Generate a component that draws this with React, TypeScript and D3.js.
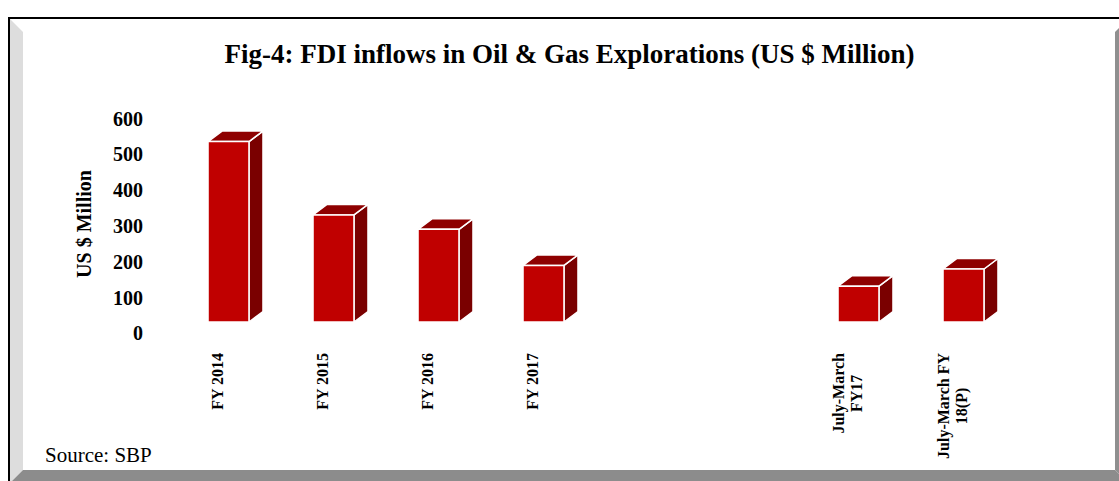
import React, { useEffect, useRef } from "react";
import * as d3 from "d3";

const categories: string[] = [
  "FY 2014",
  "FY 2015",
  "FY 2016",
  "FY 2017",
  "",
  "",
  "July-March\nFY17",
  "July-March FY\n18(P)",
];
const values: (number | null)[] = [504, 299, 259, 158, null, null, 100, 148];
const yTicks: number[] = [0, 100, 200, 300, 400, 500, 600];
const title = "Fig-4: FDI inflows in Oil & Gas Explorations (US $ Million)";
const yTitle = "US $ Million";
const source = "Source: SBP";

const W = 1119;
const H = 481;
const FONT = "'Liberation Serif', 'Times New Roman', Times, serif";

export default function App() {
  const ref = useRef<SVGSVGElement | null>(null);

  useEffect(() => {
    const svg = d3.select(ref.current);
    svg.selectAll("*").remove();

    // frame
    const f = svg.append("g");
    f.append("rect").attr("x", 0).attr("y", 0).attr("width", W).attr("height", H).attr("fill", "#ffffff");
    f.append("polygon").attr("points", "10,19 1128,19 1115,32 23,32").attr("fill", "#ffffff");
    f.append("polygon").attr("points", "10,19 23,32 23,470 10,483").attr("fill", "#dddddd");
    f.append("polygon").attr("points", "1128,19 1128,483 1115,470 1115,32").attr("fill", "#8f8f8f");
    f.append("polygon").attr("points", "10,483 23,470 1115,470 1128,483").attr("fill", "#8c8c8c");
    f.append("rect").attr("x", 9).attr("y", 18).attr("width", 1130).attr("height", 480)
      .attr("fill", "none").attr("stroke", "#000").attr("stroke-width", 2);

    const x = d3.scaleBand<number>()
      .domain(d3.range(categories.length))
      .range([176, 1016])
      .paddingInner(0.61)
      .paddingOuter(0.305);
    const y = d3.scaleLinear().domain([0, 600]).range([322, 107.2]);
    const dx = 14;
    const dy = 10.5;

    // title
    svg.append("text")
      .attr("x", 569.5).attr("y", 63)
      .attr("text-anchor", "middle")
      .attr("font-family", FONT).attr("font-weight", "bold").attr("font-size", 27)
      .attr("fill", "#000")
      .text(title);

    // y ticks
    svg.append("g").selectAll("text").data(yTicks).join("text")
      .attr("x", 143)
      .attr("y", (d) => y(d) + 18.4)
      .attr("text-anchor", "end")
      .attr("font-family", FONT).attr("font-weight", "bold").attr("font-size", 20)
      .attr("fill", "#000")
      .text((d) => String(d));

    // y title
    svg.append("text")
      .attr("transform", "translate(90.5,224) rotate(-90)")
      .attr("text-anchor", "middle")
      .attr("font-family", FONT).attr("font-weight", "bold").attr("font-size", 20)
      .attr("fill", "#000")
      .text(yTitle);

    // bars
    const bars = svg.append("g");
    const bw = x.bandwidth();
    categories.forEach((c, i) => {
      const v = values[i];
      if (v == null) return;
      const x0 = x(i)!;
      const x1 = x0 + bw;
      const y0 = y(0);
      const yt = y(v);
      const g = bars.append("g").attr("stroke", "#ffffff").attr("stroke-width", 1.5).attr("stroke-linejoin", "round");
      g.append("polygon")
        .attr("points", `${x1},${yt} ${x1 + dx},${yt - dy} ${x1 + dx},${y0 - dy} ${x1},${y0}`)
        .attr("fill", "#7a0000");
      g.append("polygon")
        .attr("points", `${x0},${yt} ${x0 + dx},${yt - dy} ${x1 + dx},${yt - dy} ${x1},${yt}`)
        .attr("fill", "#8e0000");
      g.append("rect")
        .attr("x", x0).attr("y", yt).attr("width", bw).attr("height", y0 - yt)
        .attr("fill", "#c00000");
    });

    // x labels
    const top = 353;
    const lineGap = 18.5;
    const labels = svg.append("g");
    categories.forEach((c, i) => {
      if (!c) return;
      const lines = c.split("\n");
      const cx = x(i)! + bw / 2 - 11;
      const n = lines.length;
      const nodes: SVGTextElement[] = [];
      lines.forEach((ln, k) => {
        const gx = cx + (k - (n - 1) / 2) * lineGap + 5.4;
        const t = labels.append("text")
          .attr("font-family", FONT).attr("font-weight", "bold").attr("font-size", 16)
          .attr("fill", "#000")
          .attr("text-anchor", "middle")
          .attr("data-x", gx)
          .text(ln);
        nodes.push(t.node() as SVGTextElement);
      });
      const maxLen = d3.max(nodes, (nd) => nd.getComputedTextLength()) || 0;
      nodes.forEach((nd) => {
        const gx = +(nd.getAttribute("data-x") || 0);
        d3.select(nd).attr("transform", `translate(${gx},${top + maxLen / 2}) rotate(-90)`);
      });
    });

    // source
    svg.append("text")
      .attr("x", 45).attr("y", 462)
      .attr("font-family", FONT).attr("font-size", 21)
      .attr("fill", "#000")
      .text(source);
  }, []);

  return (
    <svg
      ref={ref}
      width={W}
      height={H}
      style={{ position: "absolute", left: 0, top: 0, display: "block" }}
    />
  );
}
